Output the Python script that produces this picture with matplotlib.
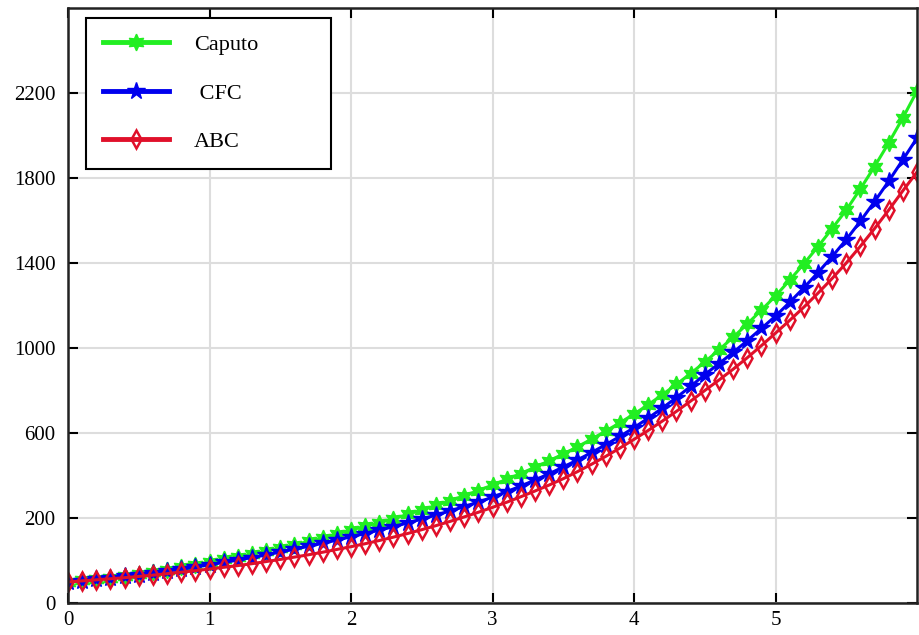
import matplotlib.pyplot as plt
import numpy as np

# x from 0 to 6 in steps of 0.1 (61 points)
t = np.arange(61) / 10

caputo = [-101, -94, -87, -80, -72, -64,
          -54, -43, -32, -20, -7,
          5, 17, 30, 44, 59,
          74, 90, 107, 125, 144,
          161, 178, 197, 217, 238,
          259, 281, 305, 329, 355,
          382, 409, 439, 469, 501,
          535, 571, 609, 648, 689,
          733, 780, 829, 880, 934,
          991, 1050, 1113, 1178, 1245,
          1319, 1396, 1477, 1562, 1649,
          1749, 1854, 1965, 2083, 2209]

cfc = [-101, -95, -89, -82, -75, -67,
       -59, -50, -41, -31, -20,
       -9, 2, 14, 26, 40,
       53, 67, 81, 96, 112,
       127, 143, 159, 177, 195,
       214, 233, 254, 275, 298,
       324, 350, 379, 408, 440,
       473, 508, 545, 584, 625,
       670, 717, 767, 819, 875,
       926, 979, 1034, 1092, 1150,
       1215, 1283, 1355, 1430, 1510,
       1597, 1689, 1785, 1886, 1988]

abc = [-101, -96, -91, -86, -81, -75,
       -69, -62, -55, -48, -40,
       -32, -24, -15, -5, 5,
       16, 27, 39, 52, 65,
       79, 94, 110, 127, 145,
       164, 184, 205, 227, 250,
       274, 300, 327, 355, 385,
       418, 453, 490, 529, 570,
       612, 656, 702, 750, 800,
       849, 900, 954, 1011, 1070,
       1130, 1192, 1258, 1327, 1400,
       1479, 1562, 1649, 1740, 1828]

x_ticks = [0, 1, 2, 3, 4, 5]
y_ticks = [-200, 200, 600, 1000, 1400, 1800, 2200]
y_tick_labels = ['0', '200', '600', '1000', '1400', '1800', '2200']

plt.rcParams['font.family'] = ['Liberation Serif', 'DejaVu Serif']

fig = plt.figure(figsize=(9.19, 6.35), dpi=100)
ax = fig.add_axes([68 / 919, 32 / 635, 849 / 919, 595 / 635])

ax.plot(t, caputo, color='#22ee22', lw=2.2, marker=(6, 1, 0), ms=12,
        mec='#22ee22', mfc='#22ee22', label='Caputo')
ax.plot(t, cfc, color='#0000ee', lw=2.2, marker='*', ms=13,
        mec='#0000ee', mfc='#0000ee', label=' CFC')
ax.plot(t, abc, color='#e0102a', lw=2.2, marker='d', ms=9, mew=1.8,
        mec='#e0102a', mfc='none', label='ABC')

ax.set_xlim(0, 6)
ax.set_ylim(-200, 2600)
ax.set_xticks(x_ticks)
ax.set_yticks(y_ticks)
ax.set_yticklabels(y_tick_labels)
ax.tick_params(direction='in', length=7, width=1.5, top=True, right=True,
               labelsize=15, pad=6)
ax.tick_params(axis='y', pad=9)
ax.grid(color='#dddddd', lw=1.5)
ax.set_axisbelow(True)
for s in ax.spines.values():
    s.set_linewidth(1.8)
    s.set_color('#222222')

leg = ax.legend(loc='upper left',
                bbox_to_anchor=(86 / 919, 472 / 635, 245 / 919, 145 / 635),
                bbox_transform=fig.transFigure, mode='expand', fontsize=16,
                fancybox=False, edgecolor='black', framealpha=1,
                handlelength=3.0, labelspacing=1.25, borderpad=0.75,
                handletextpad=1.1, borderaxespad=0)
leg.get_frame().set_linewidth(1.5)
for line in leg.get_lines():
    line.set_linewidth(3.5)

fig.savefig('out.png', dpi=100)
